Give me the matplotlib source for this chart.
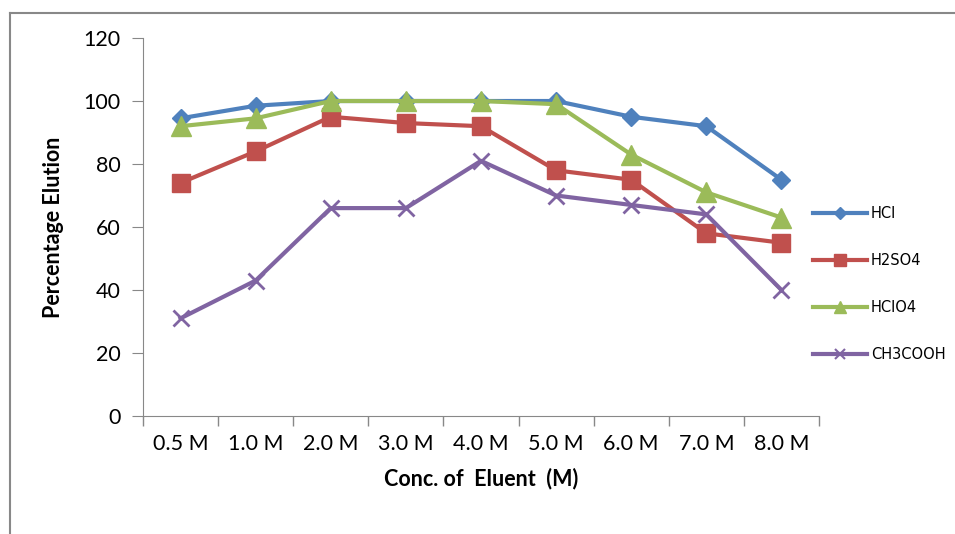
import matplotlib.pyplot as plt
from matplotlib.lines import Line2D
import numpy as np

# data
conc = ["0.5 M", "1.0 M", "2.0 M", "3.0 M", "4.0 M", "5.0 M", "6.0 M", "7.0 M", "8.0 M"]
hcl = [94.5, 98.5, 100, 100, 100, 100, 95, 92, 75]
h2so4 = [74, 84, 95, 93, 92, 78, 75, 58, 55]
hclo4 = [92, 94.5, 100, 100, 100, 99, 83, 71, 63]
ch3cooh = [31, 43, 66, 66, 81, 70, 67, 64, 40]

BLUE = "#4F81BD"
RED = "#C0504D"
GREEN = "#9BBB59"
PURPLE = "#8064A2"
GRID = "#888888"

plt.rcParams["font.family"] = ["Lato", "DejaVu Sans"]

fig = plt.figure(figsize=(9.55, 5.34), dpi=100)
ax = fig.add_axes([0.1497, 0.221, 0.7079, 0.7078])

x = np.arange(len(conc))
ax.plot(x, hcl, color=BLUE, lw=3, marker="D", ms=9, label="HCl")
ax.plot(x, h2so4, color=RED, lw=3, marker="s", ms=13, label="H2SO4")
ax.plot(x, hclo4, color=GREEN, lw=3, marker="^", ms=14, label="HClO4")
ax.plot(x, ch3cooh, color=PURPLE, lw=3, marker="x", ms=12, mew=2, label="CH3COOH")

ax.set_xlim(-0.5, len(conc) - 0.5)
ax.set_ylim(0, 120)
ax.set_yticks(range(0, 121, 20))
ax.set_xticks(x)
ax.set_xticklabels(conc)
ax.set_xticks(np.arange(-0.5, len(conc)), minor=True)
ax.tick_params(axis="x", which="major", length=0, labelsize=15.5, pad=13)
ax.tick_params(axis="x", which="minor", length=7, color=GRID, width=1)
ax.tick_params(axis="y", length=8, color=GRID, labelsize=15.5, pad=8)

for s in ["top", "right"]:
    ax.spines[s].set_visible(False)
for s in ["left", "bottom"]:
    ax.spines[s].set_color(GRID)

ax.set_xlabel("Conc. of  Eluent  (M)", fontsize=15.5, fontweight="bold", labelpad=10)
ax.set_ylabel("Percentage Elution", fontsize=15.5, fontweight="bold", labelpad=14)

handles = [
    Line2D([], [], color=BLUE, lw=3, marker="D", ms=6),
    Line2D([], [], color=RED, lw=3, marker="s", ms=8),
    Line2D([], [], color=GREEN, lw=3, marker="^", ms=8),
    Line2D([], [], color=PURPLE, lw=3, marker="x", ms=7, mew=1.5),
]
fig.legend(handles, ["HCl", "H2SO4", "HClO4", "CH3COOH"],
           loc="center left", bbox_to_anchor=(0.851, 0.468),
           frameon=False, borderpad=0, borderaxespad=0,
           handlelength=3.7, handletextpad=0.3, labelspacing=2.2,
           prop={"family": "DejaVu Sans", "size": 10.5})

# outer chart border (only left and top edges visible)
fig.add_artist(Line2D([0.0105, 0.0105], [0, 0.9757], color=GRID, lw=1.5,
                      transform=fig.transFigure))
fig.add_artist(Line2D([0.0105, 1.0], [0.9757, 0.9757], color=GRID, lw=1.5,
                      transform=fig.transFigure))

fig.savefig("out.png", dpi=100)
